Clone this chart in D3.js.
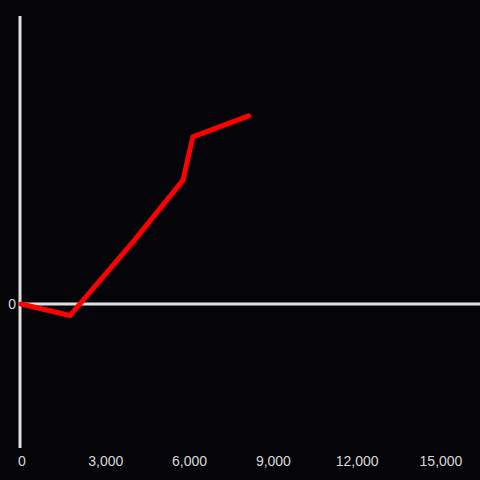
<!DOCTYPE html>
<html>
<head>
<meta charset="utf-8">
<script src="https://cdn.jsdelivr.net/npm/d3@7"></script>
<style>
  html, body { margin: 0; padding: 0; background: #050408; }
  svg { display: block; }
</style>
</head>
<body>
<svg id="svg"></svg>
<script>
const W = 480, H = 480;

// data
const xs = [0, 1750, 4050, 5800, 6150, 8150];
const ys = [0, -4, 22, 43, 58, 65.3];
const xTicks = [0, 3000, 6000, 9000, 12000, 15000];
const yTicks = [0];

const svg = d3.select("#svg").attr("width", W).attr("height", H);

const x = d3.scaleLinear().domain([0, 15000]).range([21, 440]);
const y = d3.scaleLinear().domain([-50, 100]).range([448, 16]);

const axisCol = "#e0e0e0";

// zero line (x axis)
svg.append("line")
    .attr("x1", 20).attr("x2", W)
    .attr("y1", y(0)).attr("y2", y(0))
    .attr("stroke", axisCol)
    .attr("stroke-width", 3);

// y axis
svg.append("line")
    .attr("x1", 20).attr("x2", 20)
    .attr("y1", y(100)).attr("y2", y(-50))
    .attr("stroke", axisCol)
    .attr("stroke-width", 3);

const fmt = d3.format(",");

svg.selectAll(".xt").data(xTicks).enter().append("text")
    .attr("class", "xt")
    .attr("x", d => x(d) + 1)
    .attr("y", 466)
    .attr("text-anchor", "middle")
    .attr("fill", "#d8d8d8")
    .style("font-family", "Liberation Sans, Arial, sans-serif")
    .style("font-size", "14px")
    .text(d => fmt(d));

svg.selectAll(".yt").data(yTicks).enter().append("text")
    .attr("class", "yt")
    .attr("x", 16)
    .attr("y", y(0) + 5)
    .attr("text-anchor", "end")
    .attr("fill", "#d8d8d8")
    .style("font-family", "Liberation Sans, Arial, sans-serif")
    .style("font-size", "14px")
    .text(d => d);

const pts = xs.map((d, i) => ({ x: d, y: ys[i] }));
const line = d3.line().x(d => x(d.x)).y(d => y(d.y));

svg.append("path")
    .attr("d", line(pts))
    .attr("fill", "none")
    .attr("stroke", "#ff0000")
    .attr("stroke-width", 5)
    .attr("stroke-linejoin", "round")
    .attr("stroke-linecap", "round");
</script>
</body>
</html>
